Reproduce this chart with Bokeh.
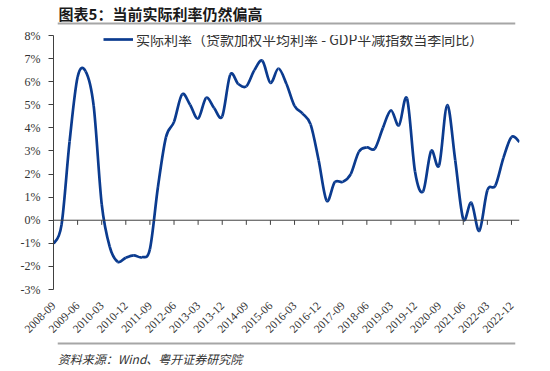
import numpy as np
from bokeh.plotting import figure
from bokeh.layouts import column
from bokeh.models import (Span, Label, BoxAnnotation, FixedTicker, Legend, LegendItem,
                          ColumnDataSource, Range1d)
from bokeh.embed import file_html
from bokeh.resources import INLINE

# ---------------- data ----------------
tick_labels = ["2008-09", "2009-06", "2010-03", "2010-12", "2011-09", "2012-06",
               "2013-03", "2013-12", "2014-09", "2015-06", "2016-03", "2016-12",
               "2017-09", "2018-06", "2019-03", "2019-12", "2020-09", "2021-06",
               "2022-03", "2022-12"]
# quarterly real interest rate (%), 2008-09 ... 2023-03
real_rate = [-1.02, -0.2, 3.4, 6.2, 6.45, 4.95, 0.7, -1.15, -1.8, -1.62,
             -1.52, -1.6, -1.25, 1.44, 3.6, 4.26, 5.45, 5.0, 4.4, 5.3,
             4.85, 4.5, 6.3, 5.9, 5.8, 6.5, 6.9, 5.95, 6.57, 5.9,
             4.95, 4.62, 4.15, 2.6, 0.85, 1.65, 1.66, 2.0, 2.96, 3.15,
             3.1, 4.0, 4.76, 4.11, 5.27, 2.1, 1.25, 3.0, 2.38, 4.98,
             2.6, 0.05, 0.76, -0.46, 1.3, 1.5, 2.7, 3.6, 3.39]
y_ticks = list(range(-3, 9))
series_name = "实际利率（贷款加权平均利率 - GDP平减指数当季同比）"
title_text = "图表5：当前实际利率仍然偏高"
source_text = "资料来源：Wind、粤开证券研究院"

W = 550
BLUE = "#0b3b8f"
AX = "#404040"
RULE = "#a6a6a6"

# ---------------- smoothed curve (Bezier segments through the data points) ----------------
n = len(real_rate)
x = np.arange(n, dtype=float)
y = np.array(real_rate, dtype=float)
tick_pos = [3 * k for k in range(len(tick_labels))]

yp = np.concatenate([[y[0]], y, [y[-1]]])
xp = np.concatenate([[x[0]], x, [x[-1]]])
x0 = x[:-1]; x1 = x[1:]; y0 = y[:-1]; y1 = y[1:]
cx0 = x0 + (xp[2:-1] - xp[:-3]) / 6.0
cy0 = y0 + (yp[2:-1] - yp[:-3]) / 6.0
cx1 = x1 - (xp[3:] - xp[1:-2]) / 6.0
cy1 = y1 - (yp[3:] - yp[1:-2]) / 6.0
src = ColumnDataSource(dict(x0=x0, y0=y0, x1=x1, y1=y1, cx0=cx0, cy0=cy0, cx1=cx1, cy1=cy1))


def strip_fig(height):
    f = figure(width=W, height=height, output_backend="svg", toolbar_location=None,
               x_range=Range1d(0, W), y_range=Range1d(height, 0),
               x_axis_type=None, y_axis_type=None, min_border=0)
    f.title.visible = False
    f.outline_line_color = None
    f.xgrid.visible = False
    f.ygrid.visible = False
    f.background_fill_color = "white"
    f.border_fill_color = "white"
    return f


# ---------------- title strip ----------------
TH = 26
t = strip_fig(TH)
t.add_layout(Label(x=6, y=13, text=title_text, text_font="Noto Sans CJK SC",
                   text_font_style="bold", text_font_size="15px", text_color="#1a1a1a",
                   text_baseline="middle"))
t.add_layout(BoxAnnotation(left=5, right=545, top=22, bottom=24, fill_color=RULE,
                           fill_alpha=1, line_color=None))

# ---------------- main chart ----------------
MH = 314
p = figure(width=W, height=MH, output_backend="svg", toolbar_location=None,
           x_range=(0, n - 1), y_range=(-3, 8),
           min_border_left=53, min_border_right=31, min_border_top=9, min_border_bottom=51)
p.title.visible = False
p.background_fill_color = "white"
p.border_fill_color = "white"
p.outline_line_color = None
p.xgrid.visible = False
p.ygrid.visible = False

r = p.bezier(x0="x0", y0="y0", x1="x1", y1="y1", cx0="cx0", cy0="cy0", cx1="cx1", cy1="cy1",
             source=src, line_color=BLUE, line_width=2.7)

# zero axis with ticks below it
p.add_layout(Span(location=0, dimension="width", line_color=AX, line_width=1))
p.segment(x0=tick_pos, y0=[0] * len(tick_pos), x1=tick_pos, y1=[-0.2] * len(tick_pos),
          line_color=AX, line_width=1)

ya = p.yaxis[0]
ya.ticker = FixedTicker(ticks=y_ticks)
ya.major_label_overrides = {v: f"{v}%" for v in y_ticks}
ya.axis_line_color = AX
ya.major_tick_line_color = AX
ya.major_tick_out = 5
ya.major_tick_in = 0
ya.minor_tick_line_color = None
ya.major_label_standoff = 8
ya.major_label_text_font = "Liberation Serif"
ya.major_label_text_font_size = "12px"
ya.major_label_text_color = "#333333"

xa = p.xaxis[0]
xa.ticker = FixedTicker(ticks=tick_pos)
xa.major_label_overrides = {tp: lab for tp, lab in zip(tick_pos, tick_labels)}
xa.axis_line_color = None
xa.major_tick_line_color = None
xa.minor_tick_line_color = None
xa.major_label_orientation = np.pi / 4
xa.major_label_standoff = 8
xa.major_label_text_font = "Liberation Serif"
xa.major_label_text_font_size = "11.5px"
xa.major_label_text_color = "#333333"

leg = Legend(items=[LegendItem(label=series_name, renderers=[r])], location=(50, 240),
             orientation="horizontal", padding=0, margin=0, glyph_width=30, glyph_height=14,
             label_standoff=3, border_line_color=None, background_fill_alpha=0,
             label_text_font="Noto Sans CJK SC", label_text_font_size="14px",
             label_text_color="#333333")
p.add_layout(leg)

# ---------------- source strip ----------------
SH = 371 - TH - MH
s = strip_fig(SH)
s.add_layout(BoxAnnotation(left=5, right=545, top=2, bottom=4, fill_color=RULE,
                           fill_alpha=1, line_color=None))
s.add_layout(Label(x=5, y=18, text=source_text, text_font="Noto Sans CJK SC",
                   text_font_style="italic", text_font_size="12px", text_color="#333333",
                   text_baseline="middle"))

layout = column(t, p, s, spacing=0)
open("out.html", "w").write(file_html(layout, INLINE))
